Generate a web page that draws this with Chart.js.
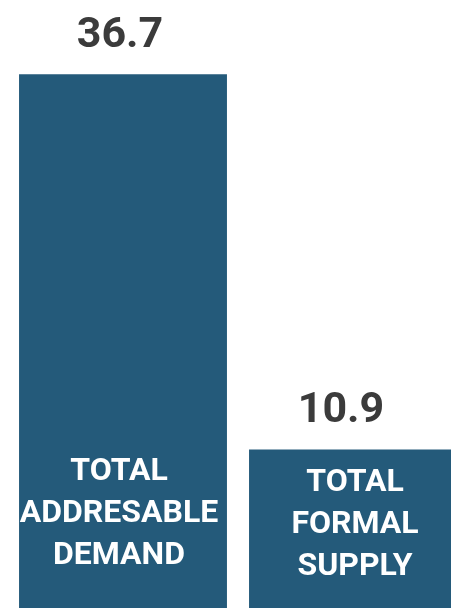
<!DOCTYPE html>
<html>
<head>
<meta charset="utf-8">
<script src="https://cdn.jsdelivr.net/npm/chart.js@4"></script>
<style>
  html, body { margin: 0; padding: 0; background: #fff; overflow: hidden; }
  #wrap { width: 468px; height: 608px; }
</style>
</head>
<body>
<div id="wrap"><canvas id="bars"></canvas></div>
<script>
// categories (one line per array entry) and values
const categories = [
    ["TOTAL", "ADDRESABLE", "DEMAND"],
    ["TOTAL", "FORMAL", "SUPPLY"]
];
const values = [36.7, 10.9];

const barColor = '#245a7a';

// writes the value above each bar and the category inside it
const barText = {
    id: 'barText',
    afterDatasetsDraw(chart) {
        const ctx = chart.ctx;
        const meta = chart.getDatasetMeta(0);
        const bottom = chart.chartArea.bottom;
        // small nudges so the text sits where it does in the picture
        const valueDx = [-3, -12];
        const labelDx = [-4, 2];
        const lastLineUp = [44, 33];
        ctx.save();
        ctx.textAlign = 'center';
        ctx.textBaseline = 'alphabetic';
        meta.data.forEach((bar, i) => {
            ctx.fillStyle = '#3b3b3b';
            ctx.font = 'bold 43px Roboto';
            ctx.fillText(values[i].toFixed(1), bar.x + valueDx[i], bar.y - 27);

            ctx.fillStyle = '#ffffff';
            ctx.font = 'bold 32px Roboto';
            const lines = categories[i];
            lines.forEach((line, j) => {
                const y = bottom - lastLineUp[i] - (lines.length - 1 - j) * 42;
                ctx.fillText(line, bar.x + labelDx[i], y);
            });
        });
        ctx.restore();
    }
};

new Chart(document.getElementById('bars'), {
    type: 'bar',
    data: {
        labels: categories.map(c => c.join(' ')),
        datasets: [{
            data: values,
            backgroundColor: barColor,
            borderWidth: 0,
            barPercentage: 0.904,
            categoryPercentage: 1
        }]
    },
    options: {
        responsive: true,
        maintainAspectRatio: false,
        animation: false,
        layout: { padding: { left: 8, right: 0, top: 0, bottom: 0 } },
        plugins: {
            legend: { display: false },
            tooltip: { enabled: false }
        },
        scales: {
            x: { display: false },
            y: { display: false, min: 0, max: 41.8 }
        }
    },
    plugins: [barText]
});
</script>
</body>
</html>
